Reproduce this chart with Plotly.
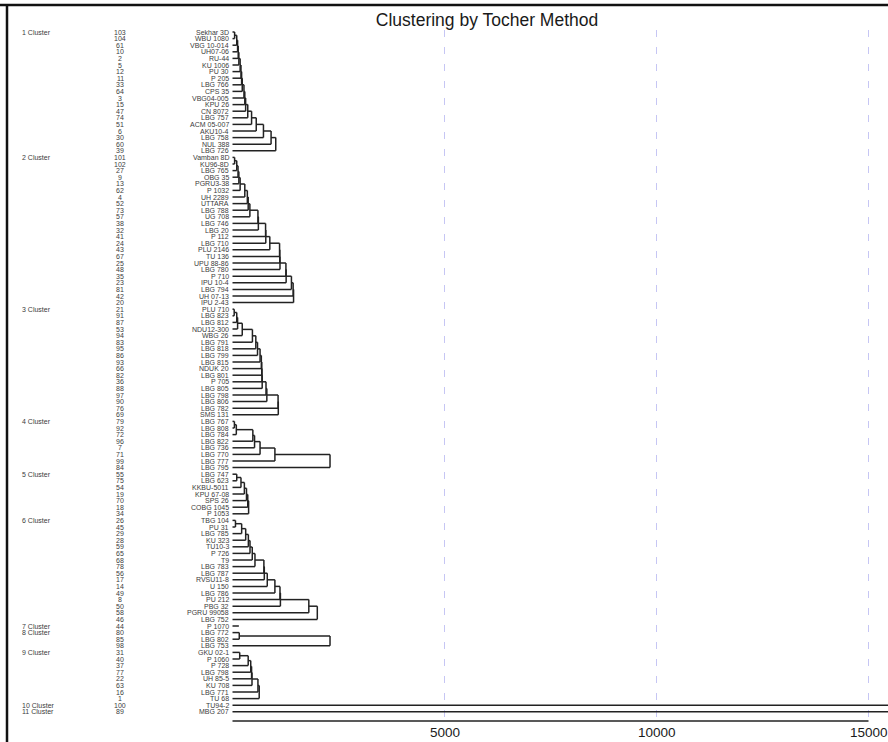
import plotly.graph_objects as go

# ---------------- data ----------------
cluster_labels = ["1 Cluster", "2 Cluster", "3 Cluster", "4 Cluster", "5 Cluster", "6 Cluster",
                  "7 Cluster", "8 Cluster", "9 Cluster", "10 Cluster", "11 Cluster"]

c1_ids = [103, 104, 61, 10, 2, 5, 12, 11, 33, 64, 3, 15, 47, 74, 51, 6, 30, 60, 39]
c1_names = ["Sekhar 3D", "WBU 1080", "VBG 10-014", "UH07-06", "RU-44", "KU 1006", "PU 30", "P 205",
            "LBG 766", "CPS 35", "VBG04-005", "KPU 26", "CN 8072", "LBG 757", "ACM 05-007", "AKU10-4",
            "LBG 758", "NUL 388", "LBG 726"]
c1_heights = [50, 100, 120, 135, 150, 180, 200, 215, 230, 270, 290, 310, 360, 450, 560, 730, 910, 1020]

c2_ids = [101, 102, 27, 9, 13, 62, 4, 52, 73, 57, 38, 32, 41, 24, 43, 67, 25, 48, 35, 23, 81, 42, 20]
c2_names = ["Vamban 8D", "KU96-8D", "LBG 765", "OBG 35", "PGRU3-38", "P 1032", "UH 2289", "UTTARA",
            "LBG 788", "UG 708", "LBG 746", "LBG 20", "P 112", "LBG 710", "PLU 2146", "TU 136",
            "UPU 88-86", "LBG 780", "P 710", "IPU 10-4", "LBG 794", "UH 07-13", "IPU 2-43"]
c2_heights = [50, 100, 130, 150, 180, 290, 350, 370, 410, 600, 610, 780, 785, 880, 1110, 1115, 1120,
              1260, 1265, 1390, 1430, 1440]

c3_ids = [21, 91, 87, 53, 94, 83, 95, 86, 93, 66, 82, 36, 88, 97, 90, 76, 69]
c3_names = ["PLU 710", "LBG 823", "LBG 812", "NDU12-300", "WBG 26", "LBG 791", "LBG 818", "LBG 799",
            "LBG 815", "NDUK 20", "LBG 801", "P 705", "LBG 805", "LBG 798", "LBG 806", "LBG 782", "SMS 131"]
c3_heights = [40, 100, 120, 230, 470, 550, 590, 650, 680, 690, 695, 700, 790, 810, 1075, 1080]

c4_ids = [79, 92, 72, 96, 7, 71, 99, 84]
c4_names = ["LBG 767", "LBG 808", "LBG 784", "LBG 822", "LBG 736", "LBG 770", "LBG 777", "LBG 795"]
c4_heights = [45, 90, 480, 520, 650, 1000, 2300]

c5_ids = [55, 75, 54, 19, 70, 18, 34]
c5_names = ["LBG 747", "LBG 623", "KKBU-5011", "KPU 67-08", "SPS 26", "COBG 1045", "P 1053"]
c5_heights = [100, 200, 280, 330, 360, 380]

c6_ids = [26, 45, 29, 28, 59, 65, 68, 78, 56, 17, 14, 49, 8, 50, 58, 46]
c6_names = ["TBG 104", "PU 31", "LBG 785", "KU 323", "TU10-3", "P 726", "T9", "LBG 783", "LBG 787",
            "RVSU11-8", "U 150", "LBG 786", "PU 212", "PBG 32", "PGRU 99058", "LBG 752"]
c6_heights = [70, 216, 311, 374, 413, 466, 530, 740, 750, 820, 1000, 1120, 1130, 1800, 2000]

c7_ids = [44]
c7_names = ["P 1070"]
c7_heights = [150]

c8_ids = [80, 85, 98]
c8_names = ["LBG 772", "LBG 802", "LBG 753"]
c8_heights = [160, 2300]

c9_ids = [31, 40, 37, 77, 22, 63, 16, 1]
c9_names = ["GKU 02-1", "P 1060", "P 728", "LBG 798", "UH 85-5", "KU 708", "LBG 771", "TU 68"]
c9_heights = [170, 370, 430, 450, 460, 600, 630]

c10_ids = [100]
c10_names = ["TU94-2"]
c10_heights = [16500]

c11_ids = [89]
c11_names = ["MBG 207"]
c11_heights = [16500]

tick_values = [5000, 10000, 15000]
tick_labels = ["5000", "10000", "15000"]

clusters = [
    (c1_ids, c1_names, c1_heights), (c2_ids, c2_names, c2_heights), (c3_ids, c3_names, c3_heights),
    (c4_ids, c4_names, c4_heights), (c5_ids, c5_names, c5_heights), (c6_ids, c6_names, c6_heights),
    (c7_ids, c7_names, c7_heights), (c8_ids, c8_names, c8_heights), (c9_ids, c9_names, c9_heights),
    (c10_ids, c10_names, c10_heights), (c11_ids, c11_names, c11_heights),
]

# ---------------- layout geometry ----------------
W, H = 888, 742
PX_PER_UNIT = 212 / 5000.0     # horizontal scale
ZERO_PX = 232.5                # pixel position of value 0
ROW0_PX = 32.0                 # pixel of first row
ROW_PX = 6.6                   # row spacing


def px2x(px):
    return (px - ZERO_PX) / PX_PER_UNIT


def px2row(py):
    return (py - ROW0_PX) / ROW_PX


def py2paper(py):
    return 1 - py / H


x_range = [px2x(0), px2x(W)]
y_range = [px2row(H), px2row(0)]

# ---------------- dendrogram segments ----------------
seg_x, seg_y = [], []


def seg(x0, y0, x1, y1):
    seg_x.extend([x0, x1, None])
    seg_y.extend([y0, y1, None])


FONT = "Liberation Sans, Arial, sans-serif"
annotations = []
row = 0
small_font = dict(family=FONT, size=7, color="#3c3c3c")
for ci, (ids, names, heights) in enumerate(clusters):
    rows = list(range(row, row + len(ids)))
    annotations.append(dict(x=px2x(20), y=rows[0], xref="x", yref="y", text=cluster_labels[ci],
                            showarrow=False, xanchor="left", yanchor="middle", font=small_font))
    for r, gid, nm in zip(rows, ids, names):
        annotations.append(dict(x=px2x(120), y=r, xref="x", yref="y", text=str(gid), showarrow=False,
                                xanchor="center", yanchor="middle", font=small_font))
        annotations.append(dict(x=px2x(231), y=r, xref="x", yref="y", text=nm, showarrow=False,
                                xanchor="right", yanchor="middle", font=small_font))
    if len(ids) == 1:
        seg(0, rows[0], heights[0], rows[0])
    else:
        h = heights[0]
        seg(0, rows[0], h, rows[0])
        seg(h, rows[0], h, rows[1])
        seg(0, rows[1], h, rows[1])
        nx, ny = h, (rows[0] + rows[1]) / 2.0
        for k in range(2, len(ids)):
            h = heights[k - 1]
            seg(nx, ny, h, ny)
            seg(h, ny, h, rows[k])
            seg(0, rows[k], h, rows[k])
            nx, ny = h, (ny + rows[k]) / 2.0
    row += len(ids)

n_rows = row
axis_row = px2row(721)

fig = go.Figure()

for tv in tick_values:
    fig.add_trace(go.Scatter(x=[tv, tv], y=[-0.3, axis_row - 0.4], mode="lines",
                             line=dict(color="#c6c6f4", width=1, dash="7px,10px"),
                             hoverinfo="skip", showlegend=False))

fig.add_trace(go.Scatter(x=seg_x, y=seg_y, mode="lines",
                         line=dict(color="#222222", width=1.5),
                         hoverinfo="skip", showlegend=False))

# axis line from 0 to the last tick
fig.add_trace(go.Scatter(x=[0, tick_values[-1]], y=[axis_row, axis_row], mode="lines",
                         line=dict(color="#222222", width=1.5), hoverinfo="skip", showlegend=False))

# tick labels
for tv, tl in zip(tick_values, tick_labels):
    annotations.append(dict(x=tv, y=py2paper(732), xref="x", yref="paper", text=tl, showarrow=False,
                            xanchor="center", yanchor="middle",
                            font=dict(family=FONT, size=13.5, color="#1a1a1a")))

shapes = [
    dict(type="line", xref="paper", yref="paper", x0=0, x1=1, y0=py2paper(5), y1=py2paper(5),
         line=dict(color="#111", width=2.5)),
    dict(type="line", xref="x", yref="paper", x0=px2x(7), x1=px2x(7), y0=py2paper(5), y1=0,
         line=dict(color="#111", width=2.5)),
]

fig.update_layout(
    width=W, height=H,
    margin=dict(l=0, r=0, t=0, b=0, pad=0),
    paper_bgcolor="white", plot_bgcolor="white",
    title=dict(text="Clustering by Tocher Method", x=487 / W, xanchor="center", xref="container",
               y=1 - 20 / H, yanchor="middle", yref="container",
               font=dict(family=FONT, size=17.5, color="#1a1a1a")),
    xaxis=dict(range=x_range, showgrid=False, zeroline=False, showline=False, ticks="",
               showticklabels=False),
    yaxis=dict(range=y_range, showgrid=False, zeroline=False, showline=False,
               showticklabels=False, ticks=""),
    annotations=annotations,
    shapes=shapes,
    showlegend=False,
)

fig.write_html("out.html", config={"displayModeBar": False},
               post_script="document.body.style.margin='0px';document.body.style.padding='0px';")
